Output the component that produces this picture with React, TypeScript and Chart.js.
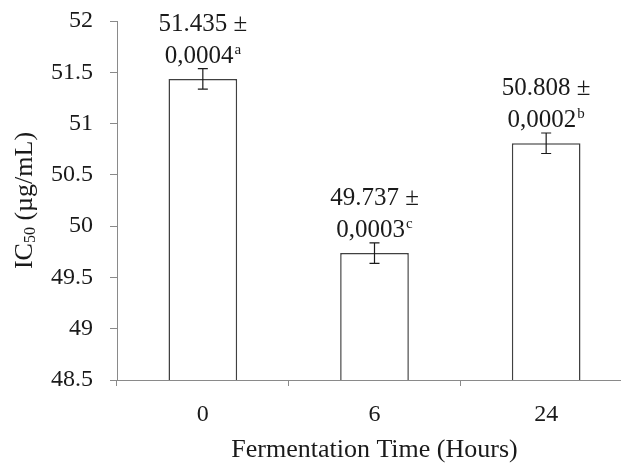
import React, { useEffect, useRef } from "react";
import { Chart, registerables } from "chart.js";

Chart.register(...registerables);

const categories = ["0", "6", "24"];
const ic50Values = [51.435, 49.737, 50.808];
const errorBars = [0.1, 0.1, 0.1];
const labelMain = ["51.435 ±", "49.737 ±", "50.808 ±"];
const labelSd = ["0,0004", "0,0003", "0,0002"];
const labelLetter = ["a", "c", "b"];

const FONT = "'Liberation Serif', 'Times New Roman', serif";

export default function App() {
  const ref = useRef<HTMLCanvasElement | null>(null);

  useEffect(() => {
    if (!ref.current) return;

    const errorPlugin = {
      id: "errorAndLabels",
      afterDatasetsDraw(chart: any) {
        const ctx = chart.ctx;
        const y = chart.scales.y;
        const meta = chart.getDatasetMeta(0);
        ctx.save();
        meta.data.forEach((bar: any, i: number) => {
          const x = bar.x;
          const v = ic50Values[i];
          const e = errorBars[i];
          const yt = y.getPixelForValue(v + e);
          const yb = y.getPixelForValue(v - e);
          ctx.strokeStyle = "#1a1a1a";
          ctx.lineWidth = 1.2;
          ctx.beginPath();
          ctx.moveTo(x, yt);
          ctx.lineTo(x, yb);
          ctx.moveTo(x - 5, yt);
          ctx.lineTo(x + 5, yt);
          ctx.moveTo(x - 5, yb);
          ctx.lineTo(x + 5, yb);
          ctx.stroke();

          ctx.fillStyle = "#1a1a1a";
          ctx.textBaseline = "alphabetic";
          ctx.font = `25px ${FONT}`;
          const line2Base = yt - 6;
          const line1Base = yt - 38;
          ctx.textAlign = "center";
          ctx.fillText(labelMain[i], x, line1Base);
          const w1 = ctx.measureText(labelSd[i]).width;
          ctx.font = `15px ${FONT}`;
          const w2 = ctx.measureText(labelLetter[i]).width;
          const start = x - (w1 + w2 + 1) / 2;
          ctx.textAlign = "left";
          ctx.font = `25px ${FONT}`;
          ctx.fillText(labelSd[i], start, line2Base);
          ctx.font = `15px ${FONT}`;
          ctx.fillText(labelLetter[i], start + w1 + 1, line2Base - 9);
        });

        // y axis title with subscript
        const ca = chart.chartArea;
        const cy = (ca.top + ca.bottom) / 2;
        ctx.translate(25, cy);
        ctx.rotate(-Math.PI / 2);
        ctx.font = `26px ${FONT}`;
        const a = "IC";
        const b = "50";
        const c = " (µg/mL)";
        const wa = ctx.measureText(a).width;
        const wc = ctx.measureText(c).width;
        ctx.font = `16px ${FONT}`;
        const wb = ctx.measureText(b).width;
        let sx = -(wa + wb + wc) / 2;
        ctx.textAlign = "left";
        ctx.textBaseline = "middle";
        ctx.font = `26px ${FONT}`;
        ctx.fillText(a, sx, 0);
        sx += wa;
        ctx.font = `16px ${FONT}`;
        ctx.fillText(b, sx, 6);
        sx += wb;
        ctx.font = `26px ${FONT}`;
        ctx.fillText(c, sx, 0);
        ctx.restore();
      },
    };

    const chart = new Chart(ref.current, {
      type: "bar",
      data: {
        labels: categories,
        datasets: [
          {
            data: ic50Values,
            backgroundColor: "#ffffff",
            borderColor: "#404040",
            borderWidth: 1.5,
            barPercentage: 0.4,
            categoryPercentage: 1,
          },
        ],
      },
      options: {
        responsive: false,
        animation: false,
        layout: { padding: { top: 21, right: 8, left: 0, bottom: 0 } },
        plugins: {
          legend: { display: false },
          tooltip: { enabled: false },
        },
        scales: {
          x: {
            offset: true,
            grid: {
              offset: true,
              drawOnChartArea: false,
              drawTicks: true,
              tickLength: 6,
              color: "#8a8a8a",
            },
            border: { color: "#8a8a8a", width: 1 },
            ticks: {
              color: "#1a1a1a",
              font: { family: FONT, size: 24 },
              padding: 14,
            },
            title: {
              display: true,
              text: "Fermentation Time (Hours)",
              color: "#1a1a1a",
              font: { family: FONT, size: 26 },
              padding: { top: 4, bottom: -3 },
            },
            afterFit(scale: any) {
              scale.height = 83;
              scale.paddingLeft = 0;
              scale.paddingRight = 0;
            },
          },
          y: {
            min: 48.5,
            max: 52,
            ticks: {
              stepSize: 0.5,
              color: "#1a1a1a",
              font: { family: FONT, size: 24 },
              padding: 17,
              callback: (value: any) => String(Number(value)),
            },
            grid: {
              drawOnChartArea: false,
              drawTicks: true,
              tickLength: 7,
              color: "#8a8a8a",
            },
            border: { color: "#8a8a8a", width: 1 },
            afterFit(scale: any) {
              scale.width = 117;
              scale.paddingTop = 0;
              scale.paddingBottom = 0;
            },
          },
        },
      },
      plugins: [errorPlugin],
    });

    return () => chart.destroy();
  }, []);

  return (
    <div
      style={{
        position: "fixed",
        left: 0,
        top: 0,
        width: 621,
        height: 463,
        overflow: "hidden",
        background: "#fff",
      }}
    >
      <canvas ref={ref} width={640} height={463} style={{ width: 640, height: 463 }} />
    </div>
  );
}
